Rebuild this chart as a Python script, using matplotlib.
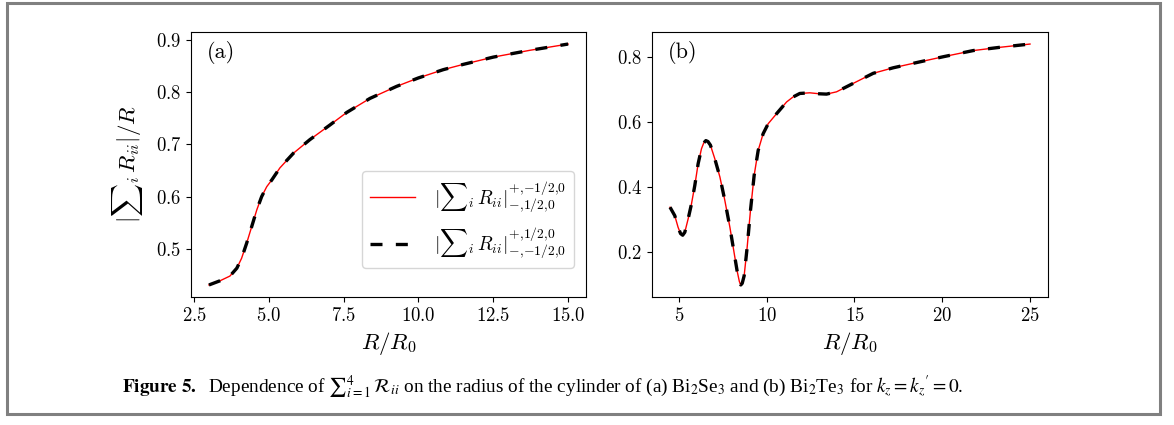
import matplotlib
matplotlib.use("Agg")
import matplotlib.pyplot as plt
from matplotlib.patches import Rectangle
from matplotlib.ticker import MultipleLocator

plt.rcParams['font.family'] = 'serif'
plt.rcParams['font.serif'] = ['cmr10']
plt.rcParams['mathtext.fontset'] = 'cm'
plt.rcParams['axes.formatter.use_mathtext'] = True

# panel (a): Bi2Se3
ra = [3.0, 3.37, 3.70, 3.93, 4.09, 4.26, 4.43, 4.60, 4.76, 4.93, 5.10, 5.37, 5.82,
      6.37, 7.04, 7.60, 8.38, 9.27, 9.99, 10.83, 11.49, 12.5, 13.72, 15.0]
sa = [0.431, 0.439, 0.448, 0.463, 0.482, 0.511, 0.543, 0.575, 0.600, 0.619, 0.632,
      0.655, 0.683, 0.709, 0.737, 0.761, 0.788, 0.811, 0.827, 0.843, 0.853, 0.867,
      0.880, 0.892]

# panel (b): Bi2Te3
rb = [4.5, 4.77, 4.96, 5.10, 5.22, 5.34, 5.53, 5.72, 5.91, 6.10, 6.29, 6.42, 6.54,
      6.66, 6.80, 7.05, 7.34, 7.62, 7.91, 8.13, 8.32, 8.45, 8.53, 8.61, 8.72, 8.89,
      9.08, 9.29, 9.52, 9.80, 10.09, 10.57, 11.14, 11.5, 11.89, 12.46, 13.0, 13.41,
      13.98, 14.93, 16.07, 17.21, 18.54, 20.06, 21.77, 23.29, 25.0]
sb = [0.339, 0.313, 0.277, 0.258, 0.253, 0.262, 0.303, 0.349, 0.406, 0.473, 0.519,
      0.537, 0.544, 0.541, 0.530, 0.488, 0.432, 0.360, 0.277, 0.205, 0.143, 0.110,
      0.100, 0.105, 0.128, 0.215, 0.329, 0.437, 0.514, 0.565, 0.596, 0.627, 0.663,
      0.678, 0.689, 0.691, 0.688, 0.687, 0.694, 0.720, 0.751, 0.768, 0.784, 0.802,
      0.821, 0.831, 0.841]

lab1 = r'$|{\sum}_i\, R_{ii}|^{+{,}{-1/2}{,}0}_{-{,}1/2{,}0}$'
lab2 = r'$|{\sum}_i\, R_{ii}|^{+{,}1/2{,}0}_{-{,}{-1/2}{,}0}$'
dash = (0, (3.6, 4.0))

fig = plt.figure(figsize=(11.74, 4.25), dpi=100)
ax1 = fig.add_axes([0.1627, 0.3012, 0.3365, 0.6235])
ax2 = fig.add_axes([0.5554, 0.3012, 0.3373, 0.6235])

ax1.plot(ra, sa, color='red', lw=1.0, label=lab1)
ax1.plot(ra, sa, color='black', lw=2.4, ls=dash, label=lab2)
ax2.plot(rb, sb, color='red', lw=1.0)
ax2.plot(rb, sb, color='black', lw=2.4, ls=dash)
ax1.xaxis.set_major_locator(MultipleLocator(2.5))

for ax, tag in [(ax1, '(a)'), (ax2, '(b)')]:
    ax.tick_params(labelsize=13.5)
    ax.set_xlabel(r'$R/R_0$', fontsize=16.5)
    ax.text(0.04, 0.965, tag, transform=ax.transAxes, ha='left', va='top', fontsize=16)

ax1.set_ylabel(r'$|{\sum}_i\, R_{ii}|/R$', fontsize=16.5, labelpad=8)
ax1.legend(loc='lower right', bbox_to_anchor=(0.97, 0.109), borderaxespad=0,
           fontsize=14, handlelength=2.3, handletextpad=1.0, labelspacing=0.6)

# outer frame and caption
fig.patches.append(Rectangle((7 / 1174, 11 / 425), 1153 / 1174, 411 / 425,
                             transform=fig.transFigure, fill=False,
                             edgecolor='#808080', lw=2.2))
cap = (r'$\mathbf{Figure\ 5.}$  Dependence of ${\sum}_{i=1}^{4}\,\mathcal{R}_{ii}$ on the radius '
       r'of the cylinder of (a) Bi$_2$Se$_3$ and (b) Bi$_2$Te$_3$ for $k_z = {k_z}^{\prime} = 0$.')
fig.text(122 / 1174, 1 - 393 / 425, cap, family='Liberation Serif', math_fontfamily='stix',
         fontsize=13.9, ha='left', va='baseline')

fig.savefig('out.png', dpi=100)
